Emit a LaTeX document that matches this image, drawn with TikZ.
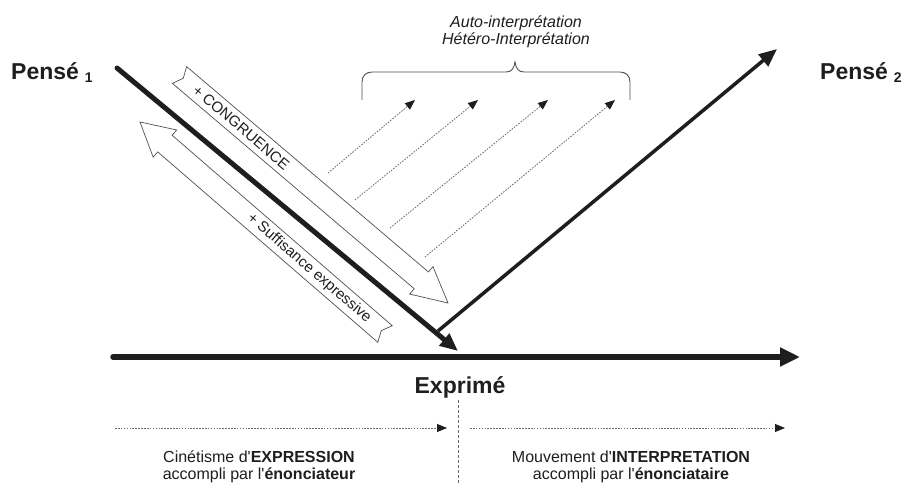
\documentclass[tikz,border=0pt]{standalone}
\usepackage{fontspec}
\setmainfont{Liberation Sans}
\usetikzlibrary{arrows.meta,calc}
\definecolor{ink}{HTML}{1E1E1E}
\definecolor{bandc}{HTML}{505050}
\definecolor{dotc}{HTML}{6A6A6A}
\begin{document}
\begin{tikzpicture}[x=1pt,y=-1pt,
  thickline/.style={draw=ink, line width=#1},
  bigtip/.style={-{Triangle[length=20pt,width=18pt,color=ink]}},
  midtip/.style={-{Triangle[length=18pt,width=15pt,color=ink]}},
  hollow/.style={draw=bandc, line width=0.7pt, fill=white, line join=miter},
  dotarrow/.style={draw=dotc, line width=0.8pt, dash pattern=on 1.6pt off 1.3pt,
                   -{Triangle[length=10pt,width=8pt,color=ink]}},
  vdash/.style={draw=dotc, line width=0.8pt, dash pattern=on 3pt off 2pt},
  bracec/.style={draw=bandc, line width=0.9pt},
  biglbl/.style={font=\fontsize{23}{23}\selectfont\bfseries, inner sep=0pt, text=ink},
  exprlbl/.style={font=\fontsize{23}{23}\selectfont\bfseries, inner sep=0pt, text=ink},
  bandtext/.style={font=\fontsize{15}{15}\selectfont, inner sep=0pt, text=ink},
  italtext/.style={font=\fontsize{16}{16}\selectfont\itshape, inner sep=0pt, text=ink},
  smalltext/.style={font=\fontsize{16}{16}\selectfont, inner sep=0pt, text=ink}
]
\useasboundingbox (0,0) rectangle (908,484);

% ---------- hollow band arrow: + CONGRUENCE ----------
\coordinate (cgT) at (179.5,75);
\coordinate (cgH) at (448,303);
\coordinate (cgB) at ($(cgH)!35pt!(cgT)$);
\draw[hollow] ($(cgT)!11pt!90:(cgH)$) -- ($(cgT)!5pt!(cgH)$) -- ($(cgT)!11pt!-90:(cgH)$)
  -- ($(cgB)!11pt!-90:(cgH)$) -- ($(cgB)!18pt!-90:(cgH)$) -- (cgH)
  -- ($(cgB)!18pt!90:(cgH)$) -- ($(cgB)!11pt!90:(cgH)$) -- cycle;
\path (cgT) -- (cgH) node[bandtext, pos=0.057, sloped, anchor=west] (cgL) {+ CONGRUENCE};

% ---------- hollow band arrow: + Suffisance expressive ----------
\coordinate (sfT) at (385,334);
\coordinate (sfH) at (140,122);
\coordinate (sfB) at ($(sfH)!33pt!(sfT)$);
\draw[hollow] ($(sfT)!11pt!90:(sfH)$) -- ($(sfT)!5pt!(sfH)$) -- ($(sfT)!11pt!-90:(sfH)$)
  -- ($(sfB)!11pt!-90:(sfH)$) -- ($(sfB)!18pt!-90:(sfH)$) -- (sfH)
  -- ($(sfB)!18pt!90:(sfH)$) -- ($(sfB)!11pt!90:(sfH)$) -- cycle;
\path (sfH) -- (sfT) node[bandtext, pos=0.445, sloped, anchor=west] (sfL) {+ Suffisance expressive};

% ---------- thick lines ----------
\coordinate (p1s) at (117,68);
\coordinate (p1e) at (458,351);
\coordinate (p2s) at (438,331);
\coordinate (p2e) at (777,49);
\coordinate (axs) at (113,357);
\coordinate (axe) at (800,357);
\draw[thickline=5pt, midtip, line cap=round] (p1s) -- (p1e);
\draw[thickline=3.5pt, midtip] (p2s) -- (p2e);
\draw[thickline=5.5pt, bigtip, line cap=round] (axs) -- (axe);

% ---------- dotted interpretation arrows ----------
\coordinate (d1s) at (328,173); \coordinate (d1e) at (415,100);
\coordinate (d2s) at (355,200); \coordinate (d2e) at (478,100);
\coordinate (d3s) at (390,228); \coordinate (d3e) at (548,100);
\coordinate (d4s) at (425,257); \coordinate (d4e) at (615,100);
\draw[dotarrow] (d1s) -- (d1e);
\draw[dotarrow] (d2s) -- (d2e);
\draw[dotarrow] (d3s) -- (d3e);
\draw[dotarrow] (d4s) -- (d4e);

% ---------- brace ----------
\draw[bracec] (362,100) -- (362,82) .. controls (362,76) and (366,72) .. (372,72)
  -- (506,72) .. controls (512,72) and (514,68) .. (515,62)
  .. controls (516,68) and (518,72) .. (524,72)
  -- (620,72) .. controls (626,72) and (630,76) .. (630,82) -- (630,100);
\node[italtext, anchor=base] (auto) at (516,28) {Auto-interprétation};
\node[italtext, anchor=base] (hetero) at (516,45) {Hétéro-Interprétation};

% ---------- labels ----------
\node[biglbl, anchor=base west] (pense1) at (11,80)
  {Pensé\hspace{6pt}\raisebox{-3pt}{\fontsize{14}{14}\selectfont 1}};
\node[biglbl, anchor=base west] (pense2) at (820,80)
  {Pensé\hspace{6pt}\raisebox{-3pt}{\fontsize{14}{14}\selectfont 2}};
\node[exprlbl, anchor=base] (expr) at (460,393) {Exprimé};

% ---------- bottom part ----------
\coordinate (vtop) at (458,400);
\coordinate (vbot) at (458,484);
\draw[vdash] (vtop) -- (vbot);
\coordinate (b1s) at (115,428); \coordinate (b1e) at (447,428);
\coordinate (b2s) at (470,428); \coordinate (b2e) at (785,428);
\draw[dotarrow] (b1s) -- (b1e);
\draw[dotarrow] (b2s) -- (b2e);

\node[smalltext, anchor=base] (cin1) at (259,462) {Cinétisme d\textquotesingle\textbf{EXPRESSION}};
\node[smalltext, anchor=base] (cin2) at (259,479) {accompli par l\textquotesingle\textbf{énonciateur}};
\node[smalltext, anchor=base] (mov1) at (631,462) {Mouvement d\textquotesingle\textbf{INTERPRETATION}};
\node[smalltext, anchor=base] (mov2) at (631,479) {accompli par l\textquotesingle\textbf{énonciataire}};
\end{tikzpicture}
\end{document}
